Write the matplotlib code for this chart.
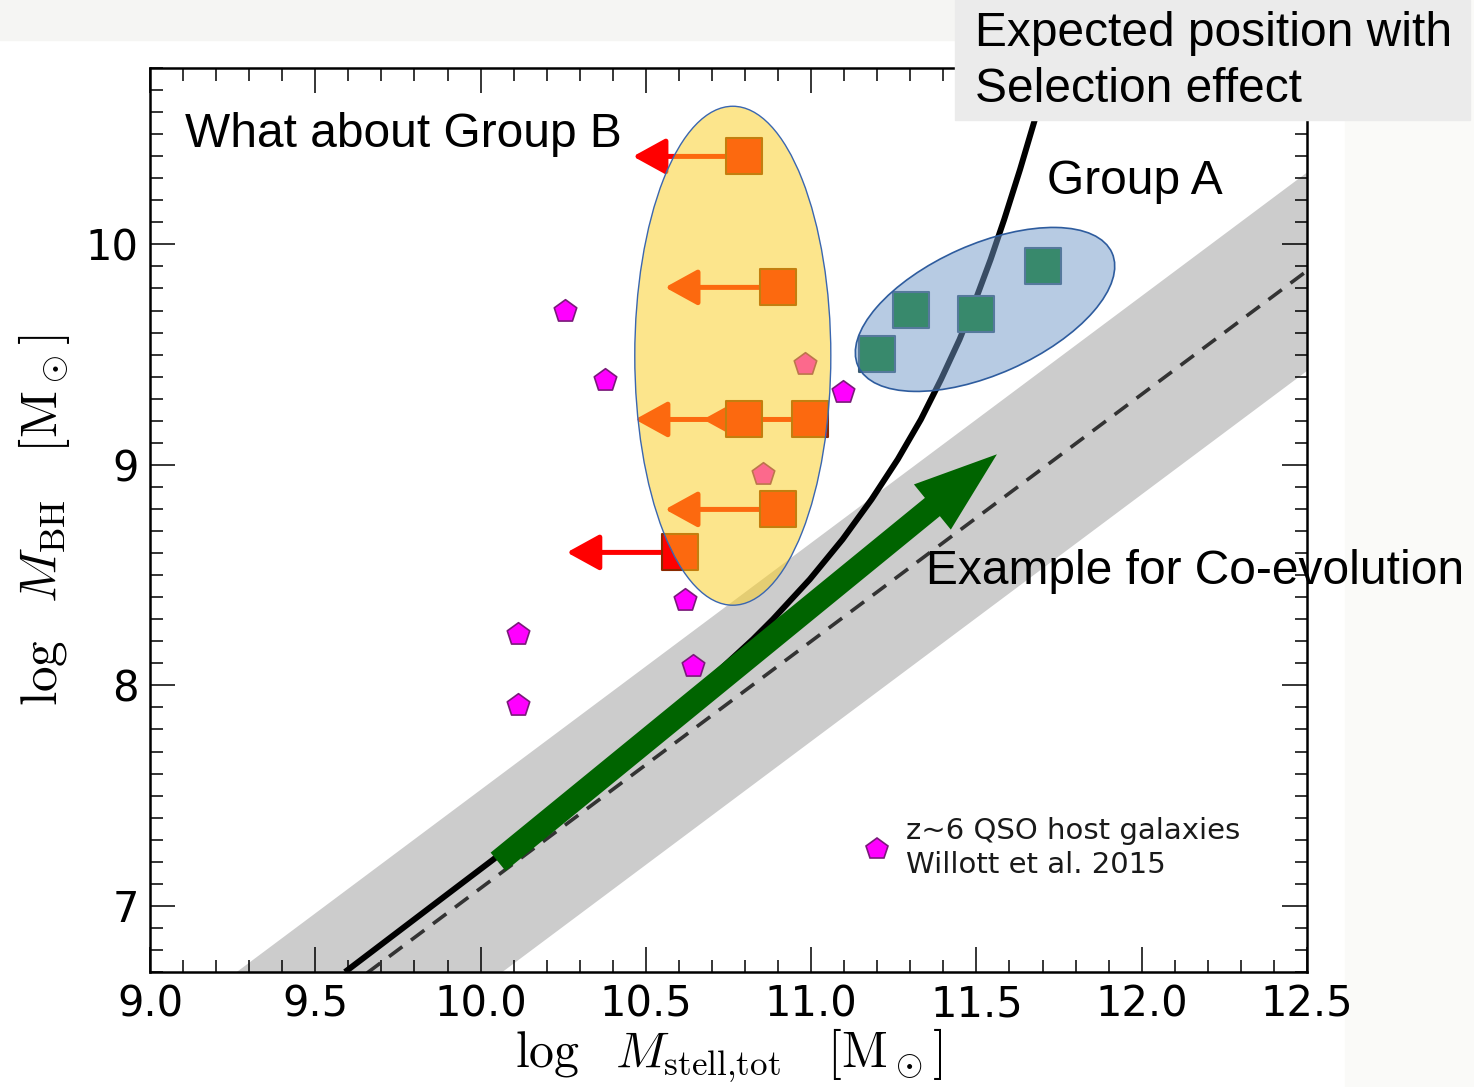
import numpy as np
import matplotlib
matplotlib.use('Agg')
import matplotlib.pyplot as plt
from matplotlib.patches import Ellipse, Rectangle, FancyArrowPatch, ArrowStyle
from matplotlib.transforms import ScaledTranslation
from matplotlib.ticker import MultipleLocator
from matplotlib.lines import Line2D

plt.rcParams['mathtext.fontset'] = 'cm'
plt.rcParams['font.family'] = ['DejaVu Sans']

# ---------------- data ----------------
# local relation (Haring & Rix 2004 style)
rel_x = [9.0, 12.5]
rel_intercept = 8.20
rel_slope = 1.12
rel_pivot = 11.0
rel_scatter = 0.45

# expected position with selection effect
sel_x = [9.590, 9.907, 10.039, 10.343, 10.627, 10.824, 10.884, 10.996, 11.095,
         11.183, 11.262, 11.332, 11.393, 11.449, 11.498, 11.543, 11.584, 11.632,
         11.677, 11.724]
sel_y = [6.700, 7.061, 7.211, 7.574, 7.937, 8.209, 8.299, 8.481, 8.662,
         8.844, 9.025, 9.206, 9.388, 9.569, 9.751, 9.932, 10.113, 10.340,
         10.567, 10.800]

# z~6 QSO host galaxies (Willott et al. 2015)
qso_x = [10.255, 10.376, 10.981, 11.096, 10.854, 10.618, 10.113, 10.643, 10.113]
qso_y = [9.696, 9.383, 9.456, 9.329, 8.957, 8.386, 8.231, 8.086, 7.909]

# Group B (upper limits on stellar mass)
grpB_x = [10.797, 10.900, 10.797, 10.997, 10.900, 10.603]
grpB_y = [10.399, 9.805, 9.206, 9.206, 8.798, 8.603]
grpB_lim = [10.461, 10.558, 10.467, 10.673, 10.558, 10.261]

# Group A
grpA_x = [11.199, 11.302, 11.499, 11.701]
grpA_y = [9.501, 9.701, 9.683, 9.900]

# co-evolution example arrow
coevo_start = (10.053, 7.20)
coevo_end = (11.562, 9.048)

# group ellipses
ellB_center = (10.763, 9.495)
ellB_size = (0.593, 2.263)
ellA_center = (11.526, 9.705)

xticks_major = [9.0, 9.5, 10.0, 10.5, 11.0, 11.5, 12.0, 12.5]
yticks_major = [7, 8, 9, 10]

# ---------------- figure ----------------
W, H = 1474, 1087
fig = plt.figure(figsize=(W / 100, H / 100), dpi=100)
fig.patch.set_facecolor('white')

# faint background strips
fig.patches.append(Rectangle((0, 1 - 40 / H), 1, 40 / H, transform=fig.transFigure,
                             color='#f5f5f3', zorder=-2))
fig.patches.append(Rectangle((1345 / W, 0), (W - 1345) / W, 1, transform=fig.transFigure,
                             color='#fafaf8', zorder=-2))

ax = fig.add_axes([150 / W, 1 - 972 / H, 1157 / W, 904 / H])
ax.set_xlim(9.0, 12.5)
ax.set_ylim(6.70, 10.80)

# relation band and line
rx = np.array(rel_x)
ry = rel_intercept + rel_slope * (rx - rel_pivot)
ax.fill_between(rx, ry - rel_scatter, ry + rel_scatter, color='#cccccc', lw=0, zorder=1)
ax.plot(rx, ry, color='#333333', lw=2.6, ls=(0, (4.6, 3.0)), zorder=2)

# selection-effect curve
ax.plot(sel_x, sel_y, color='black', lw=4.3, zorder=3, solid_capstyle='butt',
        solid_joinstyle='round')

# co-evolution arrow
arr = FancyArrowPatch(coevo_start, coevo_end,
                      arrowstyle=ArrowStyle.Simple(head_length=60, head_width=42, tail_width=17),
                      mutation_scale=1, color='#006400', lw=0, shrinkA=0, shrinkB=0, zorder=4)
ax.add_patch(arr)

# QSO pentagons
ax.scatter(qso_x, qso_y, marker='p', s=17 ** 2, c='#ff00ff', edgecolors='#7a1a7a',
           linewidths=1.2, zorder=5)

# Group B limit arrows and squares
for x0, y0, xl in zip(grpB_x, grpB_y, grpB_lim):
    ax.annotate('', xy=(xl, y0), xytext=(x0, y0),
                arrowprops=dict(arrowstyle='-|>,head_length=1.0,head_width=0.55',
                                mutation_scale=20, color='#ff0000', lw=3.6,
                                shrinkA=0, shrinkB=0),
                zorder=5.5)
ax.scatter(grpB_x, grpB_y, marker='s', s=26.5 ** 2, c='#ff0000', edgecolors='#8a2a00',
           linewidths=1.5, zorder=6)

# Group A squares
ax.scatter(grpA_x, grpA_y, marker='s', s=26.5 ** 2, c='#007a10', edgecolors='#3a5a70',
           linewidths=1.5, zorder=6)

# Group ellipses (translucent overlays)
ellB = Ellipse(ellB_center, ellB_size[0], ellB_size[1], facecolor=(251/255, 206/255, 31/255, 0.514),
               edgecolor='#3a66b0', lw=1.0, zorder=7)
ax.add_patch(ellB)
ellA = Ellipse((0, 0), 2.78, 1.30, angle=24,
               transform=fig.dpi_scale_trans + ScaledTranslation(ellA_center[0], ellA_center[1], ax.transData),
               facecolor=(113/255, 153/255, 201/255, 0.5), edgecolor='#2e5c9e', lw=1.2, zorder=7)
ax.add_patch(ellA)

# annotations
tfont = ['Liberation Sans', 'DejaVu Sans']
ax.text((185 - 150) / 1157, (972 - 147) / 904, 'What about Group B', transform=ax.transAxes,
        fontsize=34.5, family=tfont, va='baseline', ha='left', zorder=8)
ax.text((1047 - 150) / 1157, (972 - 194) / 904, 'Group A', transform=ax.transAxes,
        fontsize=34.5, family=tfont, va='baseline', ha='left', zorder=8)
ax.text((926 - 150) / 1157, (972 - 584) / 904, 'Example for Co-evolution', transform=ax.transAxes,
        fontsize=34.5, family=tfont, va='baseline', ha='left', zorder=8, clip_on=False)

# expected position box
fig.patches.append(Rectangle((955 / W, 1 - 120 / H), (1470 - 955) / W, 120 / H,
                             transform=fig.transFigure, color='#ebebeb', zorder=10))
fig.text(975 / W, 1 - 11 / H, 'Expected position with\nSelection effect', fontsize=34.5,
         family=tfont, va='top', ha='left', zorder=11, linespacing=1.3)

# legend
h = Line2D([], [], marker='p', ls='none', mfc='#ff00ff', mec='#7a1a7a', ms=16, mew=1.2)
leg = ax.legend([h], ['z~6 QSO host galaxies\nWillott et al. 2015'], frameon=False,
                fontsize=21, loc='center left', bbox_to_anchor=((862.5 - 150) / 1157, (972 - 848) / 904),
                handlelength=1.0, handletextpad=0.5, borderpad=0, borderaxespad=0)
for t in leg.get_texts():
    t.set_color('#1a1a1a')
    t.set_linespacing(1.25)

# axes styling
ax.xaxis.set_minor_locator(MultipleLocator(0.1))
ax.yaxis.set_minor_locator(MultipleLocator(0.1))
ax.set_xticks(xticks_major)
ax.set_yticks(yticks_major)
ax.set_xticklabels([f'{v:.1f}' for v in xticks_major])
ax.set_yticklabels([str(v) for v in yticks_major])
ax.tick_params(which='both', direction='in', top=True, right=True, width=1.1, colors='black')
ax.tick_params(which='major', length=18, labelsize=30, pad=8)
ax.tick_params(which='minor', length=9)
for s in ax.spines.values():
    s.set_linewidth(1.8)

ax.set_xlabel(r'$\log\ \ M_{\rm stell{,}tot}\ \ \ [{\rm M}_\odot]$', fontsize=36)
ax.set_ylabel(r'$\log\ \ M_{\rm BH}\ \ \ [{\rm M}_\odot]$', fontsize=37)
ax.xaxis.set_label_coords(0.5, (972 - 1026) / 904)
ax.yaxis.set_label_coords((72 - 150) / 1157, 0.5)

fig.savefig('out.png', dpi=100)
